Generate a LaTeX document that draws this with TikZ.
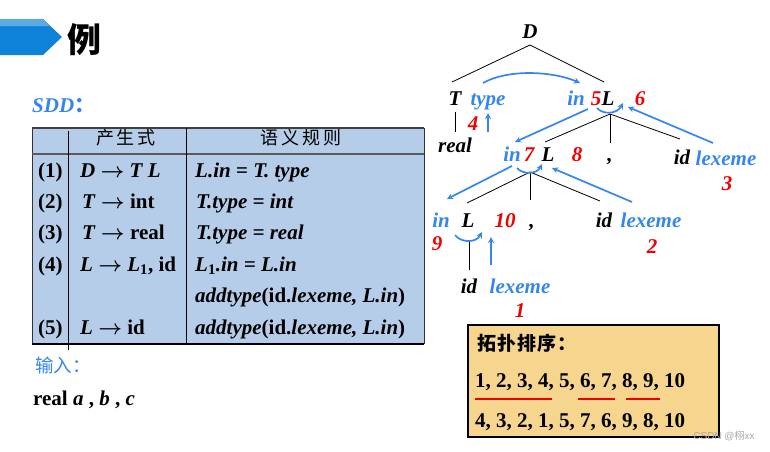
\documentclass[tikz,border=0pt]{standalone}
\usepackage{fontspec}
\setmainfont{Liberation Serif}
\newfontfamily\cjk{Noto Sans CJK SC}
\newfontfamily\markfont{Liberation Sans}
\usepackage{tikz}
\usetikzlibrary{arrows,positioning}
\definecolor{attrblue}{RGB}{52,134,238}
\definecolor{numred}{RGB}{240,0,0}
\definecolor{tablefill}{RGB}{182,205,234}
\definecolor{boxfill}{RGB}{246,213,143}
\definecolor{bannerdark}{RGB}{14,130,214}
\definecolor{bannerlight}{RGB}{92,170,226}
\newcommand{\prodto}{{\boldmath$\rightarrow$}}

\begin{document}
\begin{tikzpicture}[x=1pt, y=-1pt,
    cell/.style={anchor=base west, inner sep=0, font=\fontsize{21}{24}\selectfont\bfseries},
    head/.style={inner sep=0, font=\cjk\fontsize{18}{20}\selectfont},
    lab/.style={anchor=base, inner sep=0, font=\fontsize{21}{24}\selectfont\bfseries\itshape},
    attr/.style={lab, text=attrblue},
    num/.style={lab, text=numred},
    edge/.style={line width=0.8pt},
    dep/.style={->, >=stealth, line width=1.7pt, draw=attrblue}
]
\useasboundingbox (0,0) rectangle (770,451);

% title
\fill[bannerdark] (0,19) -- (43,19) -- (62,37) -- (43,55) -- (0,55) -- cycle;
\fill[bannerlight] (0,19) -- (43,19) -- (50,26) -- (0,26) -- cycle;
\node[inner sep=0, font=\cjk\bfseries\fontsize{34}{36}\selectfont] (title) at (84,40) {例};

% SDD table
\node[cell, text=attrblue] (sdd) at (32,112) {\textit{SDD}{\cjk ：}};
\fill[tablefill] (32,128) rectangle (424,344);
\draw[line width=0.8pt, black!80] (32,128) -- (32,344) (424,128) -- (424,344);
\draw[line width=1.8pt, black!75] (32,128) -- (424,128);
\draw[line width=1.6pt, black!65] (32,154) -- (424,154);
\draw[line width=1.8pt] (32,344) -- (424,344);
\draw[edge] (68,131) -- (68,350);
\draw[edge] (186,128) -- (186,344);
\node[head] (hprod) at (126,138) {产\hspace{3pt}生\hspace{3pt}式};
\node[head] (hrule) at (301,138) {语\hspace{3pt}义\hspace{3pt}规\hspace{3pt}则};

\node[cell] (n1) at (38,177) {(1)};
\node[cell] (p1) at (80,177) {\textit{D} \prodto{} \textit{T L}};
\node[cell] (r1) at (195,177) {\textit{L.in} = \textit{T. type}};
\node[cell] (n2) at (38,208.4) {(2)};
\node[cell] (p2) at (82,208.4) {\textit{T} \prodto{} int};
\node[cell] (r2) at (196,208.4) {\textit{T.type = int}};
\node[cell] (n3) at (38,239.8) {(3)};
\node[cell] (p3) at (82,239.8) {\textit{T} \prodto{} real};
\node[cell] (r3) at (196,239.8) {\textit{T.type = real}};
\node[cell] (n4) at (38,271.2) {(4)};
\node[cell] (p4) at (80,271.2) {\textit{L} \prodto{} \textit{L}\textsubscript{1}, id};
\node[cell] (r4) at (195,271.2) {\textit{L}\textsubscript{1}\textit{.in = L.in}};
\node[cell] (r4b) at (195,302.6) {\textit{addtype}(id.\textit{lexeme, L.in})};
\node[cell] (n5) at (38,334) {(5)};
\node[cell] (p5) at (80,334) {\textit{L} \prodto{} id};
\node[cell] (r5) at (195,334) {\textit{addtype}(id.\textit{lexeme, L.in})};

% input
\node[inner sep=0, anchor=west, text=attrblue, font=\cjk\fontsize{18.5}{20}\selectfont] (inp) at (35,365) {输入：};
\node[cell] (word) at (33,405) {real \textit{a} , \textit{b} , \textit{c}};

% parse tree
\node[lab] (D) at (530,38) {D};
\node[lab] (T) at (455,105) {T};
\node[attr] (ttype) at (488,105) {type};
\node[num] (o4) at (473,130) {4};
\node[lab] (real) at (455,152) {real};
\node[attr] (ain5) at (576,105) {in};
\node[num] (o5) at (596,105) {5};
\node[lab] (La) at (608,105) {L};
\node[num] (o6) at (640,105) {6};

\node[attr] (ain7) at (512,161) {in};
\node[num] (o7) at (529,161) {7};
\node[lab] (Lb) at (548,161) {L};
\node[num] (o8) at (577,161) {8};
\node[lab] (coma) at (610,161) {,};
\node[lab] (ida) at (682,164) {id};
\node[attr] (lexa) at (726,165) {lexeme};
\node[num] (o3) at (727,190) {3};

\node[attr] (ain9) at (441,227) {in};
\node[num] (o9) at (437,250) {9};
\node[lab] (Lc) at (468,227) {L};
\node[num] (o10) at (505,227) {10};
\node[lab] (comb) at (532,227) {,};
\node[lab] (idb) at (604,227) {id};
\node[attr] (lexb) at (651,227) {lexeme};
\node[num] (o2) at (652,253) {2};

\node[lab] (idc) at (469,293) {id};
\node[attr] (lexc) at (520,293) {lexeme};
\node[num] (o1) at (520,317) {1};

\coordinate (Dj) at (530,45);
\coordinate (Tt) at (452,82);
\coordinate (Lat) at (604,82);
\coordinate (Tb) at (455,112);
\coordinate (realt) at (455,132);
\coordinate (Laj) at (610,114);
\coordinate (Lbt) at (545,142);
\coordinate (comat) at (610,143);
\coordinate (idat) at (680,139);
\coordinate (Lbj) at (530,172);
\coordinate (Lct) at (467,203);
\coordinate (combt) at (530,200);
\coordinate (idbt) at (600,201);
\coordinate (Lcj) at (469,242);
\coordinate (idct) at (469,270);

\draw[edge] (Dj) -- (Tt);
\draw[edge] (Dj) -- (Lat);
\draw[edge] (Tb) -- (realt);
\draw[edge] (Laj) -- (Lbt);
\draw[edge] (Laj) -- (comat);
\draw[edge] (Laj) -- (idat);
\draw[edge] (Lbj) -- (Lct);
\draw[edge] (Lbj) -- (combt);
\draw[edge] (Lbj) -- (idbt);
\draw[edge] (Lcj) -- (idct);

% dependency arrows
\coordinate (typeup) at (488,113);
\coordinate (typelow) at (488,132);
\coordinate (typeout) at (483,83);
\coordinate (inin) at (580,83);
\coordinate (arcaS) at (597,108);
\coordinate (arcaE) at (623,103);
\coordinate (inaout) at (588,109);
\coordinate (inbin) at (515,142);
\coordinate (lexaout) at (713,143);
\coordinate (Lain) at (628,107);
\coordinate (arcbS) at (517,168);
\coordinate (arcbE) at (542,164);
\coordinate (inbout) at (512,166);
\coordinate (incin) at (447,199);
\coordinate (lexbout) at (632,202);
\coordinate (Lbin) at (552,168);
\coordinate (arccS) at (455,235);
\coordinate (arccE) at (482,232);
\coordinate (lexcup) at (491,237);
\coordinate (lexclow) at (491,265);

\draw[dep] (typelow) -- (typeup);
\draw[dep] (typeout) .. controls (510,68) and (555,72) .. (inin);
\draw[dep] (arcaS) .. controls (603,115) and (617,114) .. (arcaE);
\draw[dep] (inaout) -- (inbin);
\draw[dep] (lexaout) -- (Lain);
\draw[dep] (arcbS) .. controls (523,175) and (537,174) .. (arcbE);
\draw[dep] (inbout) -- (incin);
\draw[dep] (lexbout) -- (Lbin);
\draw[dep] (arccS) .. controls (461,243) and (476,243) .. (arccE);
\draw[dep] (lexclow) -- (lexcup);

% topological order
\draw[line width=1.2pt, fill=boxfill] (468,325) rectangle (719,437);
\node[inner sep=0, anchor=west, font=\cjk\bfseries\fontsize{19}{21}\selectfont] (topo) at (477,343) {拓\hspace{1pt}扑\hspace{1pt}排\hspace{1pt}序\hspace{1pt}：};
\node[cell] (ordA) at (475,387) {1, 2, 3, 4, 5, 6, 7, 8, 9, 10};
\node[cell] (ordB) at (475,427) {4, 3, 2, 1, 5, 7, 6, 9, 8, 10};
\draw[numred, line width=2.4pt] (475,399) -- (552,399) (578,399) -- (615,399) (626,399) -- (660,399);

\node[inner sep=0, text=black!35, font=\markfont\fontsize{10}{12}\selectfont] (mark) at (724,436) {CSDN @{\cjk 栩}xx};
\end{tikzpicture}
\end{document}
